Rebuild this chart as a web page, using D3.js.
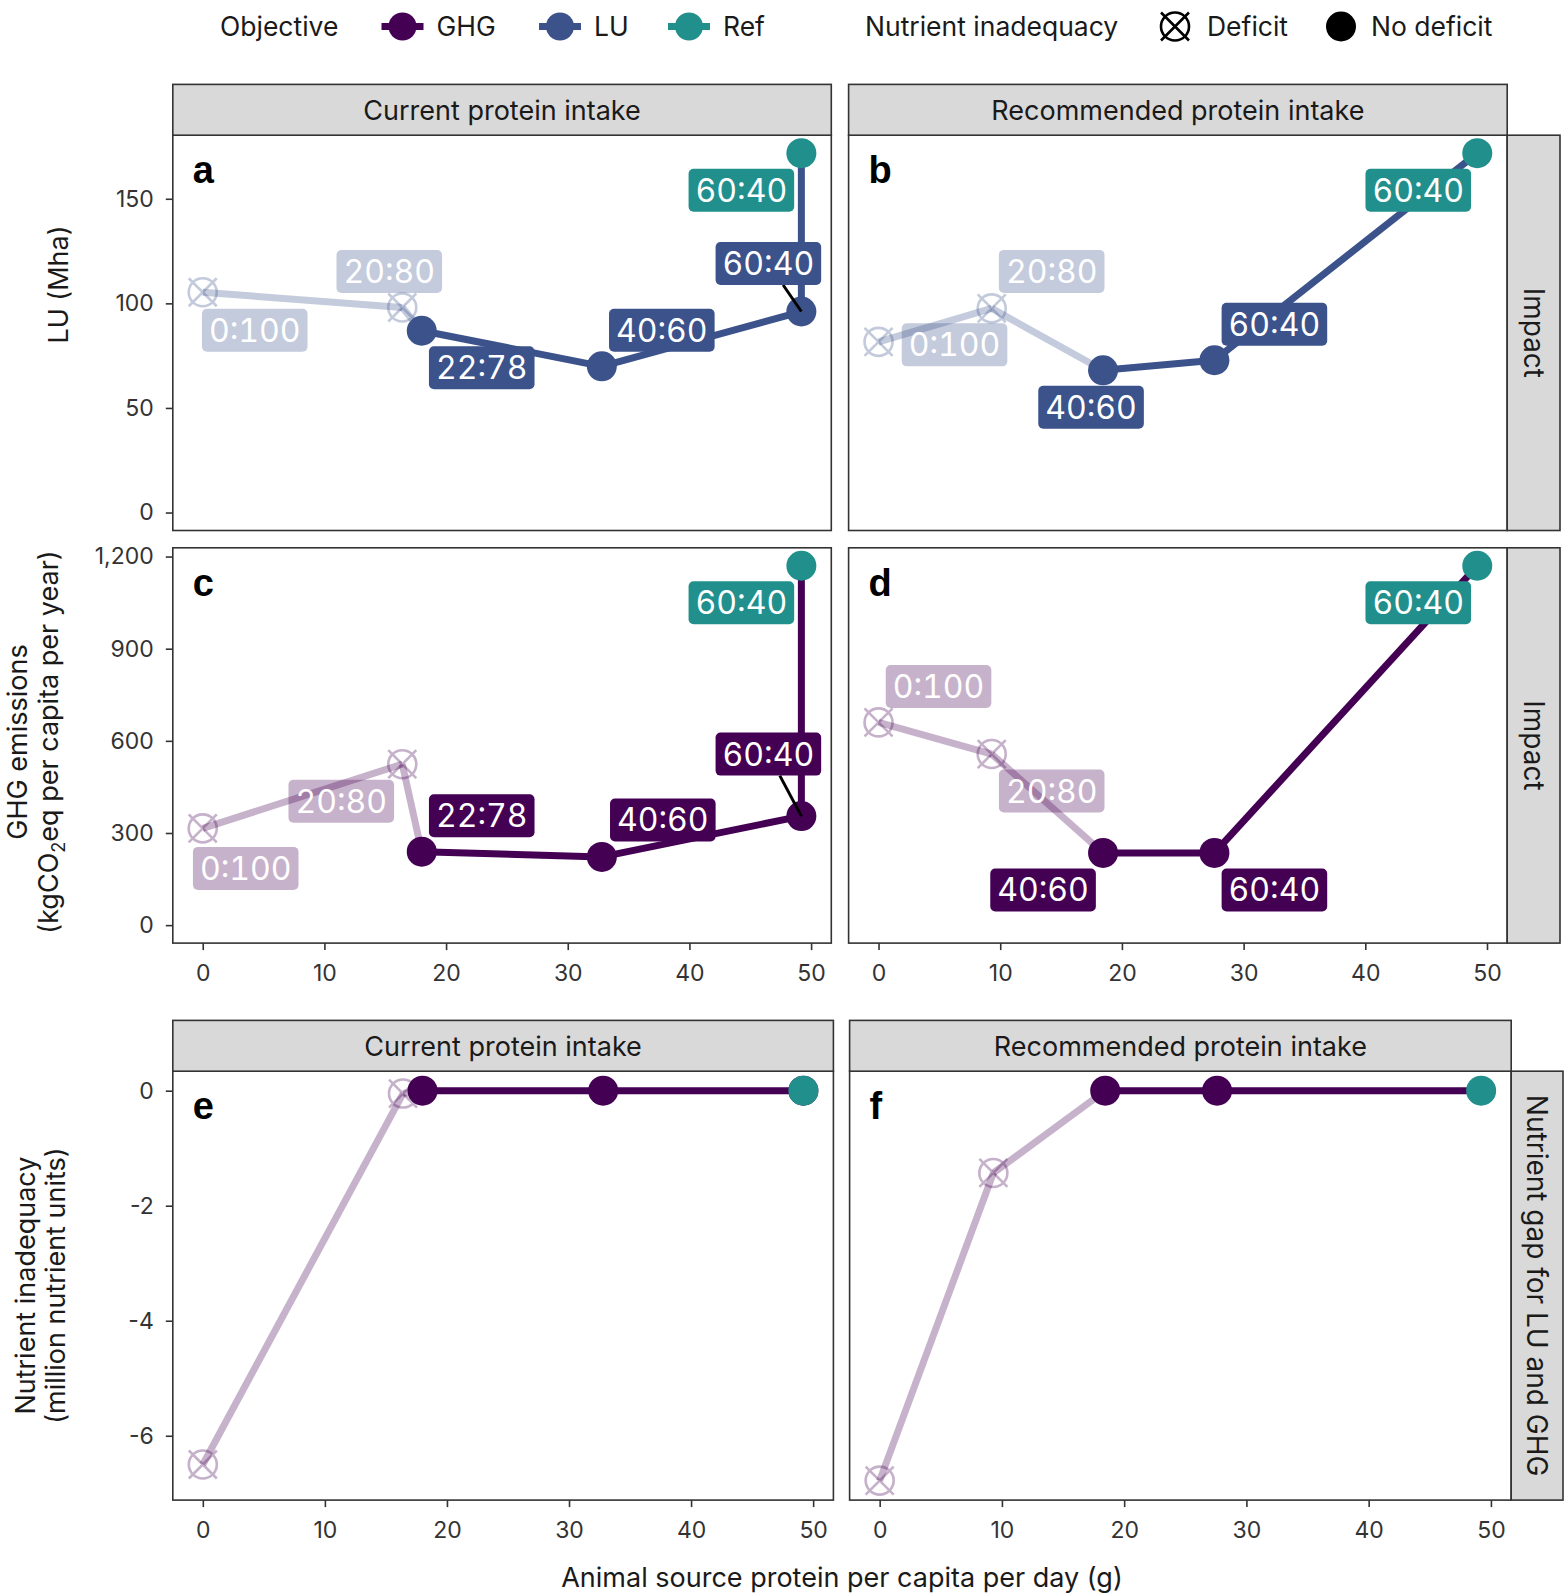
<!DOCTYPE html>
<html>
<head>
<meta charset="utf-8">
<script src="https://cdn.jsdelivr.net/npm/d3@7"></script>
<style>
  body { margin: 0; background: #fff; }
  text { font-family: Inter, "Noto Sans", sans-serif; }
  .mix { font-variant-numeric: tabular-nums; }
</style>
</head>
<body>
<div id="chart"></div>
<script>
// ---- data ----
const xTicks = [0, 10, 20, 30, 40, 50];
const luTicks = [0, 50, 100, 150];
const ghgTicks = [0, 300, 600, 900, 1200];
const gapTicks = [0, -2, -4, -6];

// current protein intake scenarios (animal:plant split)
const currentMix = ["0:100", "20:80", "22:78", "40:60", "60:40"];
const currentProtein = [0, 16.4, 18.0, 32.8, 49.2];
const currentDeficit = [true, true, false, false, false];
const currentLU = [105.3, 98.0, 86.9, 69.9, 96.1];
const currentGHG = [315, 524, 239, 222, 355];
const currentGap = [-6.5, -0.05, 0, 0, 0];

// recommended protein intake scenarios
const recMix = ["0:100", "20:80", "40:60", "60:40"];
const recProtein = [0, 9.3, 18.45, 27.6];
const recDeficit = [true, true, false, false];
const recLU = [81.6, 97.6, 68.0, 72.8];
const recGHG = [660, 557, 235, 235];
const recGap = [-6.78, -1.43, 0, 0];

// reference diet
const refMix = "60:40";
const refProtein = 49.2;
const refLU = 171.8;
const refGHG = 1170;
const refGap = 0;

const colors = { GHG: "#440154", LU: "#3B528B", Ref: "#21908C" };

// label placement (pixel offsets from the point, like ggrepel output)
const labelsA = [[52, 38], [-13, -36], [60, 37], [60, -36], [-33, -48], [-60, 37]];
const labelsB = [[76, 3], [60, -37], [-12, 37], [60, -36], [-59, 37]];
const labelsC = [[43, 40], [-61, 37], [60, -36], [61, -37], [-33, -62], [-60, 37]];
const labelsD = [[60, -36], [60, 37], [-60, 37], [60, 37], [-59, 37]];
const leadersCurrent = [false, false, false, false, true, false];

// ---- layout ----
const width = 1565, height = 1594;
const svg = d3.select("#chart").append("svg")
  .attr("width", width).attr("height", height);

function expand(vals) {
  var lo = d3.min(vals), hi = d3.max(vals);
  var pad = (hi - lo) * 0.05;
  return [lo - pad, hi + pad];
}

const xDomain = expand(currentProtein.concat(recProtein, [refProtein]));
const luDomain = expand([0].concat(currentLU, recLU, [refLU]));
const ghgDomain = expand([0].concat(currentGHG, recGHG, [refGHG]));
const gapDomain = expand([0].concat(currentGap, recGap, [refGap]));

const panels = [
  { letter: "a", x0: 172.8, x1: 831.3, y0: 135.2, y1: 530.5, mix: currentMix, xs: currentProtein,
    ys: currentLU, def: currentDeficit, ref: refLU, obj: "LU", yDomain: luDomain,
    yTicks: luTicks, showY: true, showX: false, labels: labelsA, leaders: leadersCurrent },
  { letter: "b", x0: 848.6, x1: 1507.2, y0: 135.2, y1: 530.5, mix: recMix, xs: recProtein,
    ys: recLU, def: recDeficit, ref: refLU, obj: "LU", yDomain: luDomain,
    yTicks: luTicks, showY: false, showX: false, labels: labelsB, leaders: [] },
  { letter: "c", x0: 172.8, x1: 831.3, y0: 547.8, y1: 943.1, mix: currentMix, xs: currentProtein,
    ys: currentGHG, def: currentDeficit, ref: refGHG, obj: "GHG", yDomain: ghgDomain,
    yTicks: ghgTicks, showY: true, showX: true, labels: labelsC, leaders: leadersCurrent },
  { letter: "d", x0: 848.6, x1: 1507.2, y0: 547.8, y1: 943.1, mix: recMix, xs: recProtein,
    ys: recGHG, def: recDeficit, ref: refGHG, obj: "GHG", yDomain: ghgDomain,
    yTicks: ghgTicks, showY: false, showX: true, labels: labelsD, leaders: [] },
  { letter: "e", x0: 172.8, x1: 833.4, y0: 1071.2, y1: 1500.1, mix: currentMix, xs: currentProtein,
    ys: currentGap, def: currentDeficit, ref: refGap, obj: "GHG", yDomain: gapDomain,
    yTicks: gapTicks, showY: true, showX: true, labels: null, leaders: [] },
  { letter: "f", x0: 849.6, x1: 1511.2, y0: 1071.2, y1: 1500.1, mix: recMix, xs: recProtein,
    ys: recGap, def: recDeficit, ref: refGap, obj: "GHG", yDomain: gapDomain,
    yTicks: gapTicks, showY: false, showX: true, labels: null, leaders: [] }
];

const fmtTick = function (v) { return Math.abs(v) >= 1000 ? d3.format(",")(v) : String(v); };

function drawCross(g, cx, cy, r, color, opacity) {
  var s = g.append("g").attr("opacity", opacity);
  s.append("circle").attr("cx", cx).attr("cy", cy).attr("r", r)
    .attr("fill", "none").attr("stroke", color).attr("stroke-width", 2.6);
  s.append("path")
    .attr("d", "M" + (cx - r) + "," + (cy - r) + "L" + (cx + r) + "," + (cy + r) +
               "M" + (cx - r) + "," + (cy + r) + "L" + (cx + r) + "," + (cy - r))
    .attr("stroke", color).attr("stroke-width", 2.6);
}

function drawPanel(p) {
  var g = svg.append("g");
  var x = d3.scaleLinear().domain(xDomain).range([p.x0, p.x1]);
  var y = d3.scaleLinear().domain(p.yDomain).range([p.y1, p.y0]);

  g.append("rect").attr("x", p.x0).attr("y", p.y0)
    .attr("width", p.x1 - p.x0).attr("height", p.y1 - p.y0).attr("fill", "#fff");

  var pts = p.mix.map(function (m, i) {
    return { mix: m, x: p.xs[i], y: p.ys[i], deficit: p.def[i], color: colors[p.obj] };
  });
  pts.push({ mix: refMix, x: refProtein, y: p.ref, deficit: false, color: colors.Ref, ref: true });

  // path segments, faded when leaving a deficit diet
  for (var i = 0; i < pts.length - 1; i++) {
    g.append("line")
      .attr("x1", x(pts[i].x)).attr("y1", y(pts[i].y))
      .attr("x2", x(pts[i + 1].x)).attr("y2", y(pts[i + 1].y))
      .attr("stroke", colors[p.obj]).attr("stroke-width", 7)
      .attr("stroke-opacity", pts[i].deficit ? 0.3 : 1);
  }

  pts.forEach(function (d) {
    if (d.deficit) drawCross(g, x(d.x), y(d.y), 14, d.color, 0.3);
    else g.append("circle").attr("cx", x(d.x)).attr("cy", y(d.y)).attr("r", 15).attr("fill", d.color);
  });

  if (p.labels) {
    pts.forEach(function (d, i) {
      var px = x(d.x), py = y(d.y);
      var cx = px + p.labels[i][0], cy = py + p.labels[i][1];
      var lg = g.append("g");
      var t = lg.append("text").attr("class", "mix").attr("x", cx).attr("y", cy).attr("dy", "0.36em")
        .attr("text-anchor", "middle").attr("fill", "#fff")
        .attr("font-size", 32).text(d.mix);
      var w = t.node().getComputedTextLength() + 14, h = 43;
      if (p.leaders[i]) {
        var dx = px - cx, dy = py - cy;
        var k = Math.min(Math.abs((w / 2) / dx) || Infinity, Math.abs((h / 2) / dy) || Infinity);
        lg.insert("line", "text")
          .attr("x1", cx + dx * k).attr("y1", cy + dy * k).attr("x2", px).attr("y2", py)
          .attr("stroke", "#000").attr("stroke-width", 3);
      }
      lg.insert("rect", "text")
        .attr("x", cx - w / 2).attr("y", cy - h / 2).attr("width", w).attr("height", h)
        .attr("rx", 5).attr("fill", d.color).attr("fill-opacity", d.deficit ? 0.3 : 1);
    });
  }

  g.append("rect").attr("x", p.x0).attr("y", p.y0)
    .attr("width", p.x1 - p.x0).attr("height", p.y1 - p.y0)
    .attr("fill", "none").attr("stroke", "#333").attr("stroke-width", 1.6);

  g.append("text").attr("x", p.x0 + 20).attr("y", p.y0 + 48)
    .style("font-family", "Liberation Sans, Arial, sans-serif")
    .attr("font-weight", "bold").attr("font-size", 38).text(p.letter);

  if (p.showY) {
    var ya = svg.append("g").attr("transform", "translate(" + p.x0 + ",0)")
      .call(d3.axisLeft(y).tickValues(p.yTicks).tickFormat(fmtTick).tickSize(7).tickPadding(12));
    styleAxis(ya);
  }
  if (p.showX) {
    var xa = svg.append("g").attr("transform", "translate(0," + p.y1 + ")")
      .call(d3.axisBottom(x).tickValues(xTicks).tickSize(7).tickPadding(15));
    styleAxis(xa);
  }
}

function styleAxis(a) {
  a.select(".domain").remove();
  a.selectAll(".tick line").attr("stroke", "#333").attr("stroke-width", 1.6);
  a.selectAll(".tick text").attr("font-size", 23).attr("fill", "#333")
    .style("font-family", "Inter, sans-serif");
}

panels.forEach(drawPanel);

// ---- strips ----
function stripTop(x0, x1, y0, y1, label) {
  svg.append("rect").attr("x", x0).attr("y", y0).attr("width", x1 - x0).attr("height", y1 - y0)
    .attr("fill", "#D9D9D9").attr("stroke", "#333").attr("stroke-width", 1.6);
  svg.append("text").attr("x", (x0 + x1) / 2).attr("y", (y0 + y1) / 2).attr("dy", "0.36em")
    .attr("text-anchor", "middle").attr("font-size", 27).attr("fill", "#1a1a1a").text(label);
}
function stripRight(x0, x1, y0, y1, label) {
  svg.append("rect").attr("x", x0).attr("y", y0).attr("width", x1 - x0).attr("height", y1 - y0)
    .attr("fill", "#D9D9D9").attr("stroke", "#333").attr("stroke-width", 1.6);
  svg.append("text")
    .attr("transform", "translate(" + ((x0 + x1) / 2) + "," + ((y0 + y1) / 2) + ") rotate(90)")
    .attr("dy", "0.36em").attr("text-anchor", "middle").attr("font-size", 28)
    .attr("fill", "#1a1a1a").text(label);
}
stripTop(172.8, 831.3, 84.4, 135.2, "Current protein intake");
stripTop(848.6, 1507.2, 84.4, 135.2, "Recommended protein intake");
stripRight(1507.2, 1560, 135.2, 530.5, "Impact");
stripRight(1507.2, 1560, 547.8, 943.1, "Impact");
stripTop(172.8, 833.4, 1020.4, 1071.2, "Current protein intake");
stripTop(849.6, 1511.2, 1020.4, 1071.2, "Recommended protein intake");
stripRight(1511.2, 1563, 1071.2, 1500.1, "Nutrient gap for LU and GHG");

// ---- axis titles ----
function vTitle(cx, cy, build) {
  var t = svg.append("text")
    .attr("transform", "translate(" + cx + "," + cy + ") rotate(-90)")
    .attr("dy", "0.36em").attr("text-anchor", "middle").attr("font-size", 27).attr("fill", "#1a1a1a");
  build(t);
}
vTitle(58, 284.5, function (t) { t.text("LU (Mha)"); });
vTitle(17, 742, function (t) { t.text("GHG emissions"); });
vTitle(48, 742, function (t) {
  t.append("tspan").text("(kgCO");
  t.append("tspan").attr("font-size", 18).attr("dy", 7).text("2");
  t.append("tspan").attr("dy", -7).text("eq per capita per year)");
});
vTitle(25, 1285.6, function (t) { t.text("Nutrient inadequacy"); });
vTitle(55, 1285.6, function (t) { t.text("(million nutrient units)"); });

svg.append("text").attr("x", 842).attr("y", 1577).attr("dy", "0.36em")
  .attr("text-anchor", "middle").attr("font-size", 27).attr("fill", "#1a1a1a")
  .text("Animal source protein per capita per day (g)");

// ---- legend ----
const legendY = 26.5;
const objectives = ["GHG", "LU", "Ref"];
const objectiveKeyX = [402.5, 560, 689];
const nutrientKeys = ["Deficit", "No deficit"];
const nutrientKeyX = [1175, 1341];

function legText(x, label) {
  svg.append("text").attr("x", x).attr("y", legendY).attr("dy", "0.36em")
    .attr("font-size", 26.5).attr("fill", "#1a1a1a").text(label);
}
legText(220, "Objective");
objectives.forEach(function (o, i) {
  var cx = objectiveKeyX[i];
  svg.append("line").attr("x1", cx - 21).attr("x2", cx + 21).attr("y1", legendY).attr("y2", legendY)
    .attr("stroke", colors[o]).attr("stroke-width", 7);
  svg.append("circle").attr("cx", cx).attr("cy", legendY).attr("r", 14).attr("fill", colors[o]);
  legText(cx + 34, o);
});
legText(865, "Nutrient inadequacy");
drawCross(svg, nutrientKeyX[0], legendY, 14, "#000", 1);
legText(nutrientKeyX[0] + 32, nutrientKeys[0]);
svg.append("circle").attr("cx", nutrientKeyX[1]).attr("cy", legendY).attr("r", 15).attr("fill", "#000");
legText(nutrientKeyX[1] + 30, nutrientKeys[1]);
</script>
</body>
</html>
